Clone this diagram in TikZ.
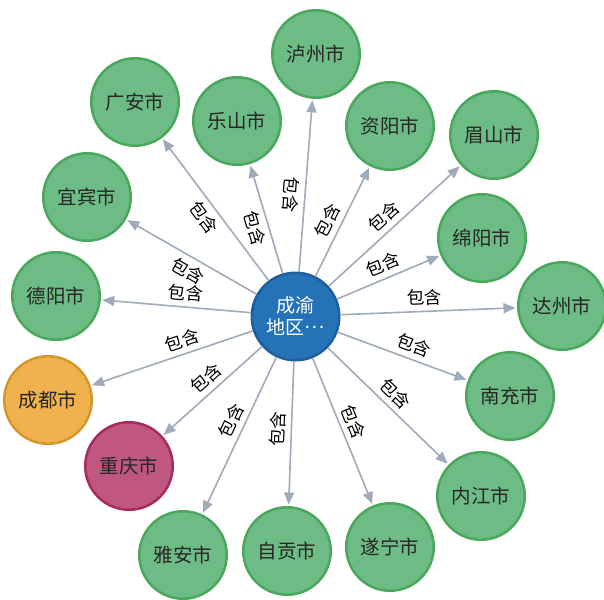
\documentclass[tikz,border=0pt]{standalone}
\usepackage{fontspec}
\setmainfont{Noto Sans CJK SC}
\usetikzlibrary{arrows.meta}
\definecolor{cityfill}{HTML}{6DBB85}
\definecolor{cityline}{HTML}{4AA85C}
\definecolor{hubfill}{HTML}{2572B6}
\definecolor{hubline}{HTML}{1D5E9E}
\definecolor{cdfill}{HTML}{F0B24E}
\definecolor{cdline}{HTML}{D6972A}
\definecolor{cqfill}{HTML}{C0577F}
\definecolor{cqline}{HTML}{A82A5E}
\definecolor{relgray}{HTML}{9FAABA}
\tikzset{->, >={Triangle[length=12pt, width=10pt]},
  city/.style={circle, draw=cityline, fill=cityfill, line width=2.5pt, minimum size=87.5pt,
    inner sep=0pt, text=black!85, font=\fontsize{19.5}{21}\selectfont},
  hub/.style={city, draw=hubline, fill=hubfill, text=white, align=center,
    font=\fontsize{19}{22}\selectfont},
  every edge/.style={draw=relgray, line width=1.6pt, shorten >=1.5pt},
  lbl/.style={sloped, inner sep=1pt, text=black, font=\fontsize{17.5}{18}\selectfont},
  lblup/.style={lbl, above=4pt},
  lbldn/.style={lbl, below=4pt}}

\begin{document}
\begin{tikzpicture}[x=1pt, y=-1pt]
    \useasboundingbox (0,0) rectangle (604,599);
    \node[hub] (hub) at (295.5,316.5) {成渝\\地区\raisebox{0.32em}{…}};
    \node[city] (luzhou) at (316,54) {泸州市};
    \node[city] (ziyang) at (390,126) {资阳市};
    \node[city] (meishan) at (494,135) {眉山市};
    \node[city] (mianyang) at (482,238) {绵阳市};
    \node[city] (dazhou) at (562,306) {达州市};
    \node[city] (nanchong) at (510,396) {南充市};
    \node[city] (neijiang) at (481,496) {内江市};
    \node[city] (suining) at (390,547) {遂宁市};
    \node[city] (zigong) at (287,551) {自贡市};
    \node[city] (yaan) at (183,555) {雅安市};
    \node[city, draw=cqline, fill=cqfill] (chongqing) at (129,466) {重庆市};
    \node[city, draw=cdline, fill=cdfill] (chengdu) at (48,400) {成都市};
    \node[city] (deyang) at (56,296) {德阳市};
    \node[city] (yibin) at (87,197) {宜宾市};
    \node[city] (guangan) at (135,102) {广安市};
    \node[city] (leshan) at (237,121) {乐山市};
    \draw (hub) edge node[lbl, rotate=180, below=4pt, pos=0.44] {包含} (luzhou)
        (hub) edge node[lblup, pos=0.45] {包含} (ziyang)
        (hub) edge node[lblup, pos=0.49] {包含} (meishan)
        (hub) edge node[lblup, pos=0.5] {包含} (mianyang)
        (hub) edge node[lblup, pos=0.48] {包含} (dazhou)
        (hub) edge node[lblup, pos=0.55] {包含} (nanchong)
        (hub) edge node[lblup, pos=0.48] {包含} (neijiang)
        (hub) edge node[lblup, pos=0.47] {包含} (suining)
        (hub) edge node[lblup, pos=0.47] {包含} (zigong)
        (hub) edge node[lblup, pos=0.44] {包含} (yaan)
        (hub) edge node[lblup, pos=0.47] {包含} (chongqing)
        (hub) edge node[lblup, pos=0.41] {包含} (chengdu)
        (hub) edge node[lblup, pos=0.44] {包含} (deyang)
        (hub) edge node[lbldn, pos=0.47] {包含} (yibin)
        (hub) edge node[lbldn, pos=0.5] {包含} (guangan)
        (hub) edge node[lbldn, pos=0.45] {包含} (leshan);
\end{tikzpicture}
\end{document}
